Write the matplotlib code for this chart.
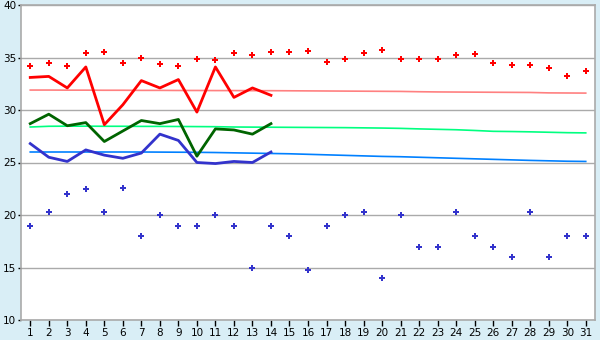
"""Daily temperatures for one month against normals and records."""

import matplotlib

matplotlib.use("Agg")
import matplotlib.pyplot as plt

days = list(range(1, 32))

# observed daily max / mean / min (first 14 days only)
obs_max = [33.1, 33.2, 32.1, 34.1, 28.6, 30.5, 32.8, 32.1, 32.9, 29.8, 34.1, 31.2, 32.1, 31.4]
obs_mean = [28.7, 29.6, 28.5, 28.8, 27.0, 28.0, 29.0, 28.7, 29.1, 25.6, 28.2, 28.1, 27.7, 28.7]
obs_min = [26.8, 25.5, 25.1, 26.2, 25.7, 25.4, 25.9, 27.7, 27.1, 25.0, 24.9, 25.1, 25.0, 26.0]

# record max / min per day
rec_max = [34.2, 34.5, 34.2, 35.4, 35.5, 34.5, 35.0, 34.4, 34.2, 34.9,
           34.8, 35.4, 35.2, 35.5, 35.5, 35.6, 34.6, 34.9, 35.4, 35.7,
           34.9, 34.9, 34.9, 35.2, 35.3, 34.5, 34.3, 34.3, 34.0, 33.2, 33.7]
rec_min = [19.0, 20.3, 22.0, 22.5, 20.3, 22.6, 18.0, 20.0, 19.0, 19.0,
           20.0, 19.0, 15.0, 19.0, 18.0, 14.8, 19.0, 20.0, 20.3, 14.0,
           20.0, 17.0, 17.0, 20.3, 18.0, 17.0, 16.0, 20.3, 16.0, 18.0, 18.0]

# normal max / mean / min per day
norm_max = [31.90, 31.90, 31.89, 31.89, 31.88, 31.88, 31.87, 31.87, 31.86, 31.86,
            31.85, 31.85, 31.84, 31.84, 31.83, 31.82, 31.81, 31.80, 31.79, 31.78,
            31.77, 31.74, 31.72, 31.71, 31.70, 31.69, 31.68, 31.67, 31.63, 31.62, 31.61]
norm_mean = [28.38, 28.45, 28.46, 28.46, 28.45, 28.45, 28.44, 28.44, 28.43, 28.42,
             28.41, 28.38, 28.37, 28.36, 28.35, 28.34, 28.33, 28.32, 28.30, 28.28,
             28.25, 28.20, 28.16, 28.12, 28.05, 27.97, 27.95, 27.92, 27.88, 27.84, 27.82]
norm_min = [26.00, 26.00, 26.00, 26.00, 26.00, 26.00, 26.00, 25.99, 25.98, 25.97,
            25.95, 25.92, 25.89, 25.86, 25.83, 25.78, 25.73, 25.68, 25.63, 25.58,
            25.55, 25.50, 25.45, 25.40, 25.35, 25.30, 25.25, 25.20, 25.16, 25.12, 25.10]

fig = plt.figure(figsize=(6, 3.4), dpi=100, facecolor="#D9EEF6")
ax = fig.add_axes([21 / 600, 20 / 340, 574 / 600, 315 / 340])
ax.set_facecolor("white")

ax.plot(days, norm_max, color="#FF8080", linewidth=1.2)
ax.plot(days, norm_mean, color="#00FF80", linewidth=1.2)
ax.plot(days, norm_min, color="#0080FF", linewidth=1.2)

ax.plot(days[:len(obs_max)], obs_max, color="#FF0000", linewidth=2)
ax.plot(days[:len(obs_mean)], obs_mean, color="#006400", linewidth=2)
ax.plot(days[:len(obs_min)], obs_min, color="#3333CC", linewidth=2)

ax.plot(days, rec_max, linestyle="none", marker="P", markersize=5,
        color="#FF0000", markeredgewidth=0)
ax.plot(days, rec_min, linestyle="none", marker="P", markersize=5,
        color="#3333CC", markeredgewidth=0)

ax.set_xlim(0.5, 31.5)
ax.set_ylim(10, 40)
ax.set_xticks(days)
ax.set_yticks(range(10, 41, 5))
ax.yaxis.grid(True, color="#AAAAAA", linewidth=1)
ax.set_axisbelow(True)
for side in ("left", "top", "right", "bottom"):
    ax.spines[side].set_color("#AAAAAA")
    ax.spines[side].set_linewidth(1.2)
ax.tick_params(axis="x", length=4, color="black", width=1, labelsize=7.5, pad=2)
ax.tick_params(axis="y", length=2.5, color="black", width=1, labelsize=7.5, pad=1)

fig.savefig("out.png", dpi=100, facecolor=fig.get_facecolor())
